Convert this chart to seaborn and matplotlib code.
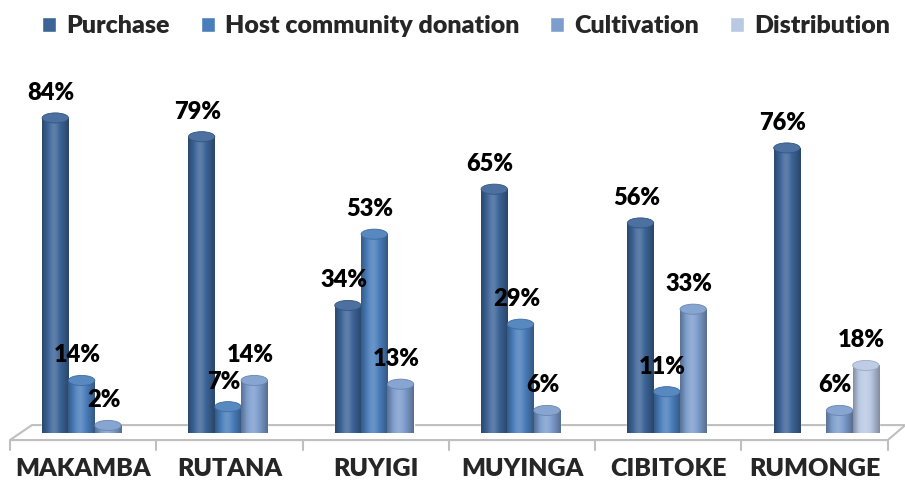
import numpy as np
import pandas as pd
import matplotlib
matplotlib.use('Agg')
import matplotlib.pyplot as plt
import matplotlib.colors as mcolors
from matplotlib.patches import Ellipse, Polygon
import seaborn as sns

sns.set_style('white')
plt.rcParams['font.family'] = ['Lato', 'DejaVu Sans']

districts = ['MAKAMBA', 'RUTANA', 'RUYIGI', 'MUYINGA', 'CIBITOKE', 'RUMONGE']
sources = ['Purchase', 'Host community donation', 'Cultivation', 'Distribution']
purchase = [84, 79, 34, 65, 56, 76]
host_donation = [14, 7, 53, 29, 11, np.nan]
cultivation = [2, 14, 13, 6, 33, 6]
distribution = [np.nan, np.nan, np.nan, np.nan, np.nan, 18]
colors = ['#3C6497', '#4A7EBB', '#7D9DCD', '#B9C8E3']

df = pd.DataFrame({'district': districts * 4,
                   'source': np.repeat(sources, len(districts)),
                   'value': purchase + host_donation + cultivation + distribution})
df = df.dropna()

fig = plt.figure(figsize=(9.05, 4.87), dpi=100)
ax = fig.add_axes([0.011, 0.111, 0.97, 0.77])

sns.barplot(data=df, x='district', y='value', hue='source', order=districts,
            hue_order=sources, palette=colors, width=0.72, saturation=1,
            ax=ax, zorder=3)
ax.set_xlim(-0.5, 5.5)
ax.set_ylim(0, 100)

# floor of the 3d plot area
floor = Polygon([(-0.5, -1.9), (5.5, -1.9), (5.62, 2.1), (-0.35, 2.1)], closed=True,
                facecolor='white', edgecolor='#BFBFBF', lw=1.5, zorder=1, clip_on=False)
ax.add_patch(floor)
for b in np.arange(-0.5, 6, 1):
    ax.plot([b, b], [-1.9, -4.6], color='#BFBFBF', lw=1.5, clip_on=False, zorder=1)

# cylinder look
profile = np.array([0.72, 0.85, 1.0, 1.12, 1.18, 1.12, 1.0, 0.9, 0.8, 0.7])
shift = 0.08
ehalf = 2.7
for cont, col in zip(ax.containers, colors):
    base = np.array(mcolors.to_rgb(col))
    grad = []
    for f in np.linspace(0, 1, 60):
        k = np.interp(f, np.linspace(0, 1, len(profile)), profile)
        c = base * k if k <= 1 else base + (1 - base) * (k - 1)
        grad.append(np.clip(c, 0, 1))
    grad = np.array(grad)[None, :, :]
    for p in cont.patches:
        h = p.get_height()
        if not np.isfinite(h) or h <= 0:
            continue
        p.set_x(p.get_x() + shift)
        x0, w = p.get_x(), p.get_width()
        cx = x0 + w / 2
        ax.add_patch(Ellipse((cx, 0), w, ehalf, facecolor=base * 0.8, edgecolor='none', zorder=2))
        im = ax.imshow(grad, extent=(x0, x0 + w, 0, h), aspect='auto', zorder=3.5, origin='lower')
        im.set_clip_path(p)
        top = np.clip(base + (1 - base) * 0.08, 0, 1)
        ax.add_patch(Ellipse((cx, h), w, ehalf, facecolor=top, edgecolor=base * 0.85,
                             lw=0.6, zorder=4))
        ax.annotate(f'{h:.0f}%', (cx, h), xytext=(-3, 18), textcoords='offset points',
                    ha='center', va='center', fontsize=17, fontweight='heavy', color='black',
                    zorder=6)

ax.set_xlim(-0.5, 5.5)
ax.set_ylim(0, 100)
ax.set_xlabel('')
ax.set_ylabel('')
ax.set_yticks([])
ax.set_xticks(range(len(districts)))
ax.set_xticklabels(districts, fontsize=18, fontweight='heavy')
ax.tick_params(axis='x', length=0, pad=18)
sns.despine(ax=ax, left=True, bottom=True)

handles, labels = ax.get_legend_handles_labels()
ax.legend_.remove()
fig.legend(handles, labels, loc='upper center', bbox_to_anchor=(0.515, 1.015), ncol=4,
           frameon=False, prop={'size': 18, 'weight': 'heavy'}, handlelength=0.55,
           handleheight=0.55, handletextpad=0.4, columnspacing=1.25)

fig.savefig('out.png', dpi=100)
